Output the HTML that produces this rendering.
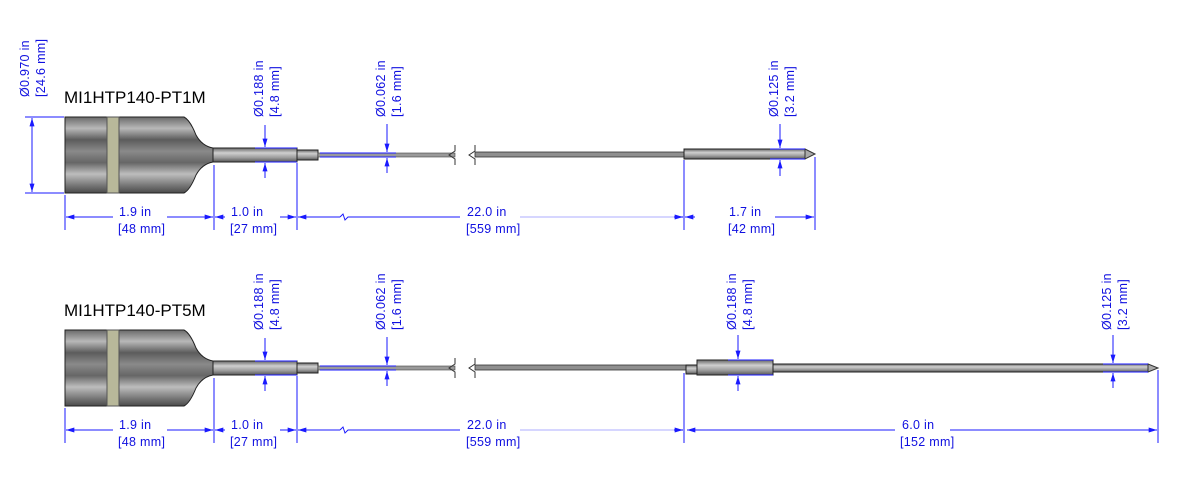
<!DOCTYPE html>
<html><head><meta charset="utf-8"><style>
html,body{margin:0;padding:0;background:#fff;}
svg{display:block;}
.t{font-family:"Liberation Sans",sans-serif;font-size:12.5px;fill:#1010e0;letter-spacing:0.3px;}
.lbl{font-family:"Liberation Sans",sans-serif;font-size:17px;fill:#000;}
.d{stroke:#1a1aff;stroke-width:1;fill:none;}
.dl{stroke:#c8c8ff;stroke-width:1.5;fill:none;}
</style></head><body>
<svg width="1177" height="490" viewBox="0 0 1177 490" xmlns="http://www.w3.org/2000/svg">
<defs>
<linearGradient id="g" x1="0" y1="0" x2="0" y2="1">
<stop offset="0" stop-color="#6a6a6a"/><stop offset="0.15" stop-color="#b8b8b8"/><stop offset="0.3" stop-color="#5c5c5c"/><stop offset="0.45" stop-color="#8a8a8a"/><stop offset="0.6" stop-color="#666"/><stop offset="0.75" stop-color="#bdbdbd"/><stop offset="0.9" stop-color="#777"/><stop offset="1" stop-color="#4a4a4a"/>
</linearGradient>
<linearGradient id="p" x1="0" y1="0" x2="0" y2="1">
<stop offset="0" stop-color="#666"/><stop offset="0.35" stop-color="#cfcfcf"/><stop offset="0.7" stop-color="#9a9a9a"/><stop offset="1" stop-color="#555"/>
</linearGradient>
<marker id="a" viewBox="0 0 10 6" refX="10" refY="3" markerWidth="9" markerHeight="5" orient="auto-start-reverse"><path d="M0,0 L10,3 L0,6z" fill="#1a1aff"/></marker>
<g id="common">
<path d="M65,117 H184 Q190,120 196,135 Q202,146 213,148 V162 Q202,164 196,175 Q190,190 184,193 H65 Z" fill="url(#g)" stroke="#222"/>
<rect x="107" y="117" width="12" height="76" fill="#b8b89a" stroke="#555"/>
<rect x="213" y="148" width="84" height="14" fill="url(#p)" stroke="#222"/>
<rect x="297" y="150" width="21" height="10" fill="url(#p)" stroke="#222"/>
<rect x="318" y="153" width="137" height="4" fill="#9a9a9a" stroke="#444" stroke-width="0.6"/>
<path d="M455,145 v6 l-6,4 l6,4 v6" stroke="#333" fill="none"/>
<path d="M475,145 v6 l-6,4 l6,4 v6" stroke="#333" fill="none"/>
<line class="d" x1="265" y1="125" x2="265" y2="147" marker-end="url(#a)"/>
<line class="d" x1="265" y1="178" x2="265" y2="163" marker-end="url(#a)"/>
<line class="d" x1="255" y1="148" x2="297" y2="148"/><line class="d" x1="255" y1="162" x2="297" y2="162"/>
<text class="t" transform="translate(263,117) rotate(-90)">Ø0.188 in</text>
<text class="t" transform="translate(279,117) rotate(-90)">[4.8 mm]</text>
<line class="d" x1="387" y1="124" x2="387" y2="152" marker-end="url(#a)"/>
<line class="d" x1="387" y1="173" x2="387" y2="158" marker-end="url(#a)"/>
<line class="d" x1="320" y1="153" x2="396" y2="153"/><line class="d" x1="320" y1="157" x2="396" y2="157"/>
<text class="t" transform="translate(385,117) rotate(-90)">Ø0.062 in</text>
<text class="t" transform="translate(401,117) rotate(-90)">[1.6 mm]</text>
<line class="d" x1="65" y1="195" x2="65" y2="230"/>
<line class="d" x1="214" y1="165" x2="214" y2="230"/>
<line class="d" x1="297" y1="163" x2="297" y2="230"/>
<line class="d" x1="684" y1="160" x2="684" y2="230"/>
<line class="d" x1="66" y1="217" x2="113" y2="217" marker-start="url(#a)"/>
<line class="d" x1="167" y1="217" x2="213" y2="217" marker-end="url(#a)"/>
<text class="t" x="119" y="216">1.9 in</text><text class="t" x="118" y="233">[48 mm]</text>
<line class="d" x1="215" y1="217" x2="225" y2="217" marker-start="url(#a)"/>
<line class="d" x1="280" y1="217" x2="296" y2="217" marker-end="url(#a)"/>
<text class="t" x="231" y="216">1.0 in</text><text class="t" x="230" y="233">[27 mm]</text>
<line class="d" x1="298" y1="217" x2="340" y2="217" marker-start="url(#a)"/>
<path class="d" d="M340,217 l3,-3 l2,6 l3,-3 H460"/>
<line class="dl" x1="520" y1="217" x2="683" y2="217"/>
<line class="d" x1="674" y1="217" x2="683" y2="217" marker-end="url(#a)"/>
<text class="t" x="467" y="216">22.0 in</text><text class="t" x="466" y="233">[559 mm]</text>
</g>
</defs>

<!-- TOP -->
<use href="#common"/>
<line class="d" x1="25" y1="117" x2="64" y2="117"/><line class="d" x1="25" y1="193" x2="64" y2="193"/>
<line class="d" x1="32" y1="118" x2="32" y2="192" marker-start="url(#a)" marker-end="url(#a)"/>
<text class="t" transform="translate(29,97) rotate(-90)">Ø0.970 in</text>
<text class="t" transform="translate(45,97) rotate(-90)">[24.6 mm]</text>
<text class="lbl" x="64" y="103">MI1HTP140-PT1M</text>
<rect x="475" y="152" width="209" height="5" fill="#8f8f8f" stroke="#333" stroke-width="0.8"/>
<rect x="684" y="149" width="121" height="10" fill="url(#p)" stroke="#222"/>
<path d="M805,149 L815,154 L805,159 Z" fill="#aaa" stroke="#333"/>
<line class="d" x1="780" y1="124" x2="780" y2="148" marker-end="url(#a)"/>
<line class="d" x1="780" y1="176" x2="780" y2="160" marker-end="url(#a)"/>
<line class="d" x1="770" y1="149" x2="805" y2="149"/><line class="d" x1="770" y1="159" x2="805" y2="159"/>
<text class="t" transform="translate(778,117) rotate(-90)">Ø0.125 in</text>
<text class="t" transform="translate(794,117) rotate(-90)">[3.2 mm]</text>
<line class="d" x1="815" y1="157" x2="815" y2="230"/>
<line class="d" x1="685" y1="217" x2="695" y2="217" marker-start="url(#a)"/>
<line class="d" x1="775" y1="217" x2="814" y2="217" marker-end="url(#a)"/>
<text class="t" x="729" y="216">1.7 in</text><text class="t" x="728" y="233">[42 mm]</text>

<!-- BOTTOM -->
<g transform="translate(0,213)">
<use href="#common"/>
<rect x="475" y="152" width="211" height="5" fill="#8f8f8f" stroke="#333" stroke-width="0.8"/>
</g>
<rect x="686" y="365" width="11" height="9" fill="url(#p)" stroke="#222"/>
<rect x="697" y="360" width="76" height="15" fill="url(#p)" stroke="#222"/>
<rect x="773" y="364" width="375" height="8" fill="url(#p)" stroke="#222"/>
<path d="M1148,364 L1158,368 L1148,372 Z" fill="#aaa" stroke="#333"/>
<text class="lbl" x="64" y="316">MI1HTP140-PT5M</text>
<line class="d" x1="738" y1="335" x2="738" y2="359" marker-end="url(#a)"/>
<line class="d" x1="738" y1="391" x2="738" y2="376" marker-end="url(#a)"/>
<line class="d" x1="728" y1="360" x2="773" y2="360"/><line class="d" x1="728" y1="375" x2="773" y2="375"/>
<text class="t" transform="translate(736,330) rotate(-90)">Ø0.188 in</text>
<text class="t" transform="translate(752,330) rotate(-90)">[4.8 mm]</text>
<line class="d" x1="1113" y1="335" x2="1113" y2="363" marker-end="url(#a)"/>
<line class="d" x1="1113" y1="388" x2="1113" y2="373" marker-end="url(#a)"/>
<line class="d" x1="1103" y1="364" x2="1148" y2="364"/><line class="d" x1="1103" y1="372" x2="1148" y2="372"/>
<text class="t" transform="translate(1111,330) rotate(-90)">Ø0.125 in</text>
<text class="t" transform="translate(1127,330) rotate(-90)">[3.2 mm]</text>
<line class="d" x1="1158" y1="370" x2="1158" y2="443"/>
<line class="d" x1="687" y1="430" x2="895" y2="430" marker-start="url(#a)"/>
<line class="d" x1="950" y1="430" x2="1157" y2="430" marker-end="url(#a)"/>
<text class="t" x="902" y="429">6.0 in</text><text class="t" x="900" y="446">[152 mm]</text>
</svg>
</body></html>
